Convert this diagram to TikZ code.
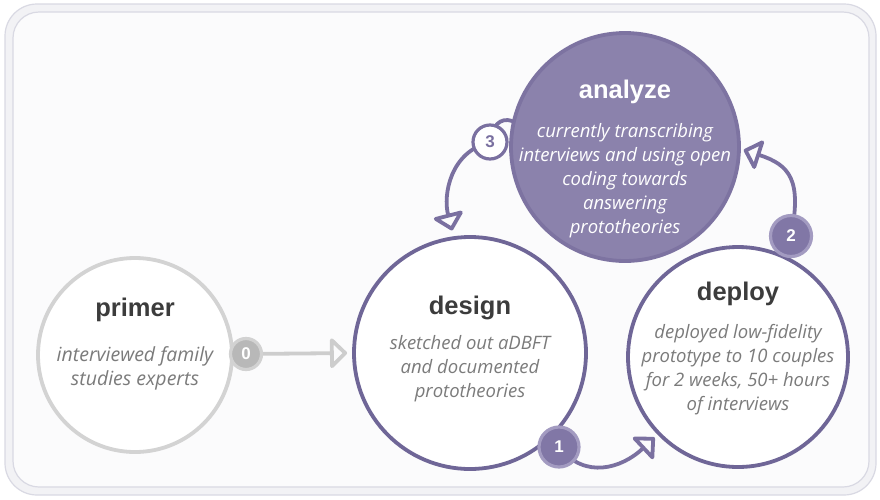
\documentclass[tikz,border=0pt]{standalone}
\usepackage{fontspec}
\setmainfont{Open Sans}
\newfontfamily\headfont{Liberation Sans}
\usetikzlibrary{arrows.meta}
\definecolor{purp}{HTML}{6F6697}
\definecolor{arrc}{HTML}{7A70A0}
\definecolor{anfill}{HTML}{8B82AC}
\definecolor{anline}{HTML}{7D73A1}
\definecolor{bfill}{HTML}{8177A6}
\definecolor{bring}{HTML}{A39BC1}
\definecolor{gline}{HTML}{D3D3D3}
\definecolor{garr}{HTML}{CDCDCD}
\definecolor{gbfill}{HTML}{B8B8B8}
\definecolor{gbring}{HTML}{D2D2D2}
\definecolor{bodyc}{HTML}{7B7B7B}
\definecolor{headc}{HTML}{3C3C3C}
\definecolor{frameA}{HTML}{D9D9E3}
\definecolor{frameB}{HTML}{F2F2F5}
\definecolor{inner}{HTML}{FBFBFC}
\tikzset{
  bigc/.style={circle, minimum size=#1, inner sep=0pt, line width=3.8pt, fill=white},
  head/.style={font=\headfont\bfseries\fontsize{25.5}{28}\selectfont, text=headc, inner sep=0pt},
  body/.style={font=\itshape\fontsize{18.5}{24}\selectfont, text=bodyc, align=center, inner sep=0pt},
  arr/.style={draw=arrc, line width=3.8pt, line cap=round,
    -{Triangle[open, length=18pt, width=34pt, round]}},
  arrg/.style={draw=garr, line width=3.8pt, line cap=round,
    -{Triangle[open, length=18pt, width=34pt, round]}},
  badge/.style={circle, minimum size=#1, inner sep=0pt, line width=3.2pt, draw=bring, fill=bfill,
    text=white, font=\headfont\bfseries\fontsize{17}{19}\selectfont},
}
\begin{document}
\begin{tikzpicture}[x=1pt,y=-1pt]
\useasboundingbox (0,0) rectangle (880,499);
\fill[white] (0,0) rectangle (880,499);
% frame
\draw[frameA, fill=frameB, line width=1.2pt, rounded corners=32pt] (5,4) rectangle (876,495);
\draw[frameA, fill=inner, line width=1.2pt, rounded corners=26pt] (13,12) rectangle (869,487);
% circles
\node[bigc=194pt, draw=gline] (pr) at (135,355) {};
\node[bigc=232pt, draw=purp] (ds) at (470,353) {};
\node[bigc=220pt, draw=purp] (dp) at (738,357) {};
\node[bigc=228pt, draw=anline, fill=anfill] (an) at (625,147) {};
% texts (anchor=base is the baseline of the last line)
\node[head, anchor=base] (prh) at (135,316) {primer};
\node[body, anchor=base, font=\itshape\fontsize{19.5}{24}\selectfont] (prb) at (135,385) {interviewed family\\studies experts};
\node[head, anchor=base] (dsh) at (470,314) {design};
\node[body, anchor=base] (dsb) at (470,397) {sketched out aDBFT\\and documented\\prototheories};
\node[head, anchor=base] (dph) at (738,300) {deploy};
\node[body, anchor=base] (dpb) at (738,410) {deployed low-fidelity\\prototype to 10 couples\\for 2 weeks, 50+ hours\\of interviews};
\node[head, anchor=base, text=white] (anh) at (625,98) {analyze};
\node[body, anchor=base, text=white] (anb) at (625,233) {currently transcribing\\interviews and using open\\coding towards\\answering\\prototheories};
% badge positions
\coordinate (b0) at (246,354);
\coordinate (b1) at (559,447);
\coordinate (b2) at (791,236);
\coordinate (b3) at (490,142);
% connectors
\draw[arrg, shorten >=5pt] (b0) -- (ds.west);
\draw[arr, shorten >=4pt] (b1) .. controls (585,480) and (622,468) .. (dp.224);
\draw[arr, shorten >=3pt] (b2) .. controls (802,180) and (790,165) .. (an.-1);
\draw[arr, shorten >=6pt] (an.167) .. controls (500,117) and (492,126) .. (b3)
   .. controls (450,152) and (443,195) .. (ds.98);
% badges
\node[badge=31pt, draw=gbring, fill=gbfill] (n0) at (b0) {0};
\node[badge=40pt] (n1) at (b1) {1};
\node[badge=41pt] (n2) at (b2) {2};
\node[badge=34pt, draw=arrc, fill=white, text=arrc] (n3) at (b3) {3};
\end{tikzpicture}
\end{document}
